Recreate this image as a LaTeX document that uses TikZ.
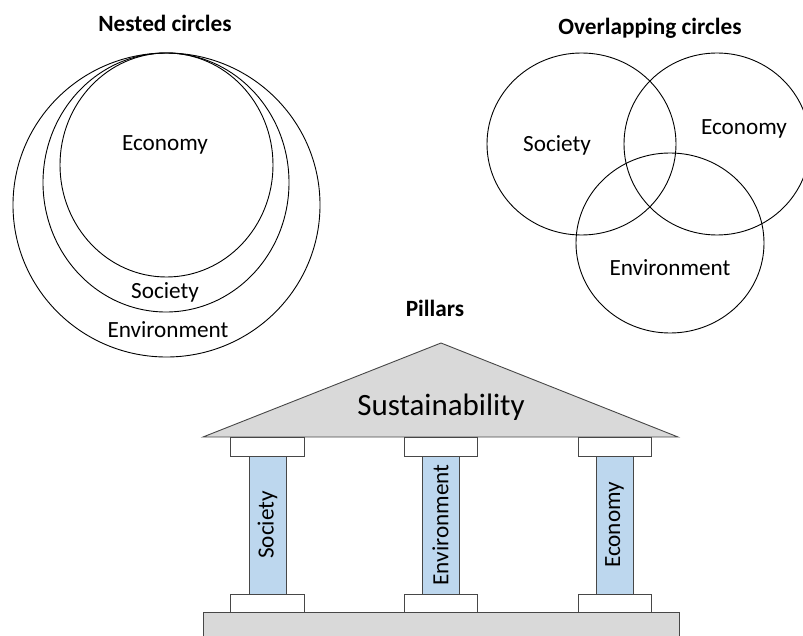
\documentclass[tikz,border=0pt]{standalone}
\usepackage{fontspec}
\setmainfont{Carlito}
\begin{document}
\begin{tikzpicture}[x=1pt,y=-1pt,
  lbl/.style={font=\fontsize{23.2}{27}\selectfont, inner sep=0pt},
  ttl/.style={font=\fontsize{23.3}{27}\selectfont\bfseries, inner sep=0pt},
  ring/.style={draw=black, line width=0.9pt},
  part/.style={draw=black!72, line width=0.9pt},
  roof/.style={part, fill=black!15},
  colbox/.style={part, fill={rgb,255:red,189;green,215;blue,238}},
  capbox/.style={part, fill=white}]
\useasboundingbox (0,0) rectangle (803,636);
\begin{scope}
\clip (0,0) rectangle (803,636);
% Nested circles
\draw[ring] (166.5,205) ellipse [x radius=153.5, y radius=152];
\draw[ring] (166,182.5) ellipse [x radius=123, y radius=129.5];
\draw[ring] (166.5,165) ellipse [x radius=106.5, y radius=112];
\node[ttl] (t1) at (165,23) {Nested circles};
\node[lbl] (n1) at (165,145) {Economy};
\node[lbl] (n2) at (165,292) {Society};
\node[lbl] (n3) at (168,330) {Environment};
% Overlapping circles
\draw[ring] (581.5,144) ellipse [x radius=94.5, y radius=91];
\draw[ring] (717,144) ellipse [x radius=93, y radius=91];
\draw[ring] (670,243) ellipse [x radius=94, y radius=90];
\node[ttl] (t2) at (650,28) {Overlapping circles};
\node[lbl] (o1) at (557,145) {Society};
\node[lbl] (o2) at (744,129) {Economy};
\node[lbl] (o3) at (670,268) {Environment};
% Pillars
\node[ttl] (t3) at (435,308) {Pillars};
\draw[roof] (441,343) -- (678,437) -- (203,437) -- cycle;
\node[font=\fontsize{31}{35}\selectfont, inner sep=0pt] (s) at (441,407) {Sustainability};
\draw[part, fill=black!15] (203,640) -- (203,612) -- (679,612) -- (679,640);
\foreach \a/\b/\c/\d/\t/\n in {230/304/249/286/Society/p1, 404/477/422/459/Environment/p2, 578/651/596/633/Economy/p3}{
  \draw[capbox] (\a,437) rectangle (\b,456);
  \draw[colbox] (\c,456) rectangle (\d,594);
  \draw[capbox] (\a,594) rectangle (\b,612);
  \node[lbl, rotate=90] (\n) at ({(\c+\d)/2},525) {\t};
}
\end{scope}
\end{tikzpicture}
\end{document}
